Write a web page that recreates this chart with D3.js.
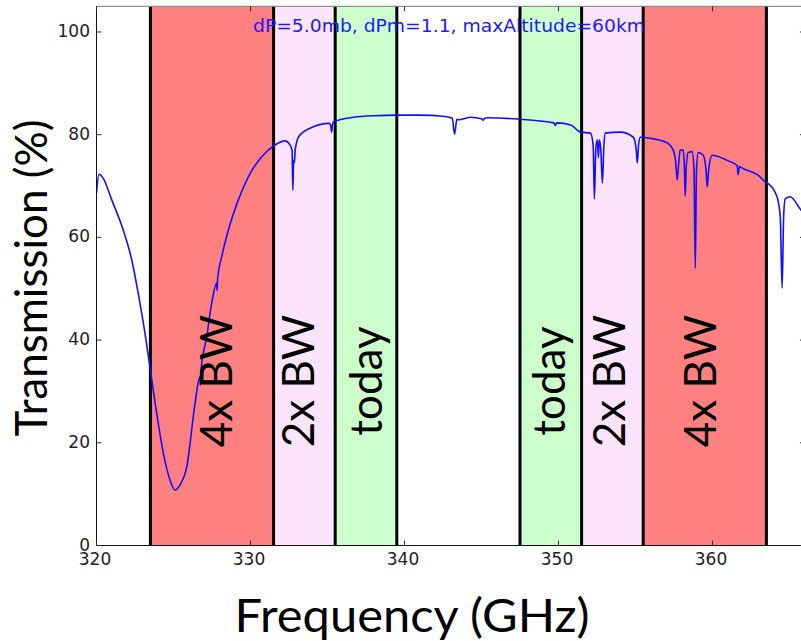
<!DOCTYPE html>
<html>
<head>
<meta charset="utf-8">
<script src="https://cdn.jsdelivr.net/npm/d3@7"></script>
<style>
  html, body { margin: 0; padding: 0; background: #fff; }
  svg { display: block; }
</style>
</head>
<body>
<svg id="chart" width="801" height="641"></svg>
<script>
// ---------- data ----------
const freqGHz = [
  320.0, 320.16, 320.44, 320.99, 321.74, 322.29, 322.71, 323.15, 323.47, 323.91, 324.34, 324.77,
  325.1, 325.42, 325.86, 326.4, 326.72, 326.74, 326.77, 327.16, 327.48, 327.81, 327.83, 327.86,
  328.13, 328.56, 329.21, 329.86, 330.73, 331.59, 332.24, 332.56, 332.7, 332.75, 332.8, 332.85,
  332.9, 333.13, 333.9, 335.08, 335.2, 335.27, 335.33, 335.4, 336.7, 338.0, 339.55, 341.0,
  342.5, 343.1, 343.25, 343.4, 343.5, 344.3, 345.0, 345.1, 345.2, 345.4, 347.5, 349.7,
  349.8, 349.9, 350.8, 351.42, 352.07, 352.25, 352.33, 352.42, 352.52, 352.59, 352.65, 352.75,
  352.85, 352.95, 353.04, 354.01, 354.86, 355.05, 355.12, 355.2, 355.31, 355.96, 357.06, 357.45,
  357.6, 357.71, 357.82, 357.9, 358.1, 358.17, 358.23, 358.3, 358.42, 358.68, 358.8, 358.88,
  358.96, 359.07, 359.4, 359.58, 359.66, 359.76, 359.98, 360.95, 361.6, 361.66, 361.75, 361.92,
  363.09, 363.42, 363.61, 364.19, 364.4, 364.52, 364.62, 364.72, 365.04, 365.75, 366.0
];
const transmission = [
  68.6, 72.3, 71.5, 67.3, 61.4, 55.6, 49.1, 41.3, 34.8, 25.7, 18.0, 12.8,
  10.8, 11.8, 15.3, 27.7, 32.9, 31.2, 33.6, 40.7, 47.2, 51.1, 49.6, 51.8,
  56.2, 61.4, 67.3, 71.8, 75.7, 78.0, 78.8, 78.0, 77.0, 69.2, 75.0, 74.5,
  77.0, 79.6, 81.3, 82.2, 81.9, 80.5, 82.0, 82.5, 83.4, 83.7, 83.8, 83.8,
  83.6, 83.2, 80.1, 83.0, 82.9, 83.4, 83.1, 82.8, 83.2, 83.3, 83.0, 82.3,
  81.8, 82.3, 81.9, 80.5, 80.3, 78.0, 67.5, 77.0, 79.0, 75.5, 79.0, 77.0,
  70.6, 78.0, 80.3, 80.5, 79.5, 77.0, 74.5, 78.0, 79.5, 79.3, 78.4, 77.0,
  75.0, 71.2, 75.0, 77.0, 77.0, 74.0, 68.0, 74.0, 76.5, 76.7, 73.0, 54.0,
  73.0, 76.5, 76.0, 73.0, 69.8, 73.5, 76.0, 75.0, 74.0, 72.2, 73.8, 73.5,
  71.8, 70.8, 70.5, 67.9, 64.0, 50.1, 64.0, 67.5, 67.9, 65.3, 64.5
];

const bandLo    = [323.5, 331.5, 335.5, 347.5, 351.5, 355.5];
const bandHi    = [331.5, 335.5, 339.5, 351.5, 355.5, 363.5];
const bandLabel = ["4x BW", "2x BW", "today", "today", "2x BW", "4x BW"];
const bandKind  = ["x4", "x2", "now", "now", "x2", "x4"];

const xTicks = [320, 330, 340, 350, 360];
const yTicks = [0, 20, 40, 60, 80, 100];
const annotation = "dP=5.0mb, dPm=1.1, maxAltitude=60km";
const xTitle = "Frequency (GHz)";
const yTitle = "Transmission (%)";

// ---------- layout / style ----------
const bandColor = { x4: "#FF8080", x2: "#FCE4FC", now: "#CCFFCC" };
const labelDx = [4.5, -6, 0, -2, -3, -5];

const svg = d3.select("#chart");
const x = d3.scaleLinear().domain([320, 366]).range([96.5, 804.9]);
const y = d3.scaleLinear().domain([0, 105]).range([545.5, 6.3]);

svg.append("defs").append("clipPath").attr("id", "plotclip")
  .append("rect")
  .attr("x", x(320)).attr("y", y(105))
  .attr("width", x(366) - x(320)).attr("height", y(0) - y(105));

const plot = svg.append("g").attr("clip-path", "url(#plotclip)");

const bands = bandLo.map((lo, i) => ({ lo, hi: bandHi[i], label: bandLabel[i], kind: bandKind[i], i }));

plot.selectAll("rect.band").data(bands).enter().append("rect")
  .attr("class", "band")
  .attr("x", d => x(d.lo)).attr("y", y(105))
  .attr("width", d => x(d.hi) - x(d.lo)).attr("height", y(0) - y(105))
  .attr("fill", d => bandColor[d.kind]);

const edges = Array.from(new Set(bandLo.concat(bandHi)));
plot.selectAll("line.edge").data(edges).enter().append("line")
  .attr("x1", d => x(d)).attr("x2", d => x(d))
  .attr("y1", y(105)).attr("y2", y(0))
  .attr("stroke", "#000").attr("stroke-width", 3);

const pts = freqGHz.map((f, i) => [f, transmission[i]]);
plot.append("path")
  .datum(pts)
  .attr("fill", "none")
  .attr("stroke", "#1010ff")
  .attr("stroke-width", 1.6)
  .attr("stroke-linejoin", "round")
  .attr("d", d3.line().curve(d3.curveMonotoneX).x(d => x(d[0])).y(d => y(d[1])));

// annotation
svg.append("text")
  .attr("x", 449).attr("y", 32)
  .attr("text-anchor", "middle")
  .attr("font-family", "DejaVu Sans")
  .attr("font-size", 17)
  .attr("textLength", 392).attr("lengthAdjust", "spacingAndGlyphs")
  .attr("fill", "#1a1aff")
  .text(annotation);

// band labels
svg.selectAll("text.blabel").data(bands).enter().append("text")
  .attr("class", "blabel")
  .attr("transform", d => `translate(${(x(d.lo) + x(d.hi)) / 2 + labelDx[d.i]},381) rotate(-90)`)
  .attr("dy", "0.36em")
  .attr("text-anchor", "middle")
  .attr("font-family", "Lato")
  .attr("font-size", 44)
  .attr("fill", "#000")
  .text(d => d.label);

// spines
const spine = svg.append("g").attr("stroke", "#111").attr("stroke-width", 1).attr("fill", "none");
spine.append("line").attr("x1", x(320)).attr("x2", x(320)).attr("y1", y(105)).attr("y2", y(0));
spine.append("line").attr("x1", x(366)).attr("x2", x(366)).attr("y1", y(105)).attr("y2", y(0));
spine.append("line").attr("x1", x(320)).attr("x2", x(366)).attr("y1", y(0)).attr("y2", y(0));
spine.append("line").attr("x1", x(320)).attr("x2", x(366)).attr("y1", y(105)).attr("y2", y(105))
  .attr("stroke", "#777");

// ticks (inside)
const tk = svg.append("g").attr("stroke", "#333").attr("stroke-width", 1);
xTicks.forEach(t => {
  tk.append("line").attr("x1", x(t)).attr("x2", x(t)).attr("y1", y(0)).attr("y2", y(0) - 5);
  tk.append("line").attr("x1", x(t)).attr("x2", x(t)).attr("y1", y(105)).attr("y2", y(105) + 5);
});
yTicks.forEach(t => {
  tk.append("line").attr("x1", x(320)).attr("x2", x(320) + 5).attr("y1", y(t)).attr("y2", y(t));
  tk.append("line").attr("x1", x(366)).attr("x2", x(366) - 5).attr("y1", y(t)).attr("y2", y(t));
});

// tick labels
svg.selectAll("text.xt").data(xTicks).enter().append("text")
  .attr("x", d => x(d) - 1.5).attr("y", 565)
  .attr("text-anchor", "middle")
  .attr("font-family", "DejaVu Sans").attr("font-size", 17)
  .attr("fill", "#222")
  .text(d => d);
svg.selectAll("text.yt").data(yTicks).enter().append("text")
  .attr("x", 90).attr("y", d => y(d))
  .attr("dy", "0.3em")
  .attr("text-anchor", "end")
  .attr("font-family", "DejaVu Sans").attr("font-size", 17)
  .attr("fill", "#222")
  .text(d => d);

// axis titles
svg.append("text")
  .attr("x", 412).attr("y", 632)
  .attr("text-anchor", "middle")
  .attr("font-family", "Lato").attr("font-size", 47)
  .attr("textLength", 355).attr("lengthAdjust", "spacingAndGlyphs")
  .attr("fill", "#000")
  .text(xTitle);
svg.append("text")
  .attr("transform", "translate(47,278) rotate(-90)")
  .attr("text-anchor", "middle")
  .attr("font-family", "Lato").attr("font-size", 45)
  .attr("textLength", 317).attr("lengthAdjust", "spacingAndGlyphs")
  .attr("fill", "#000")
  .text(yTitle);
</script>
</body>
</html>
